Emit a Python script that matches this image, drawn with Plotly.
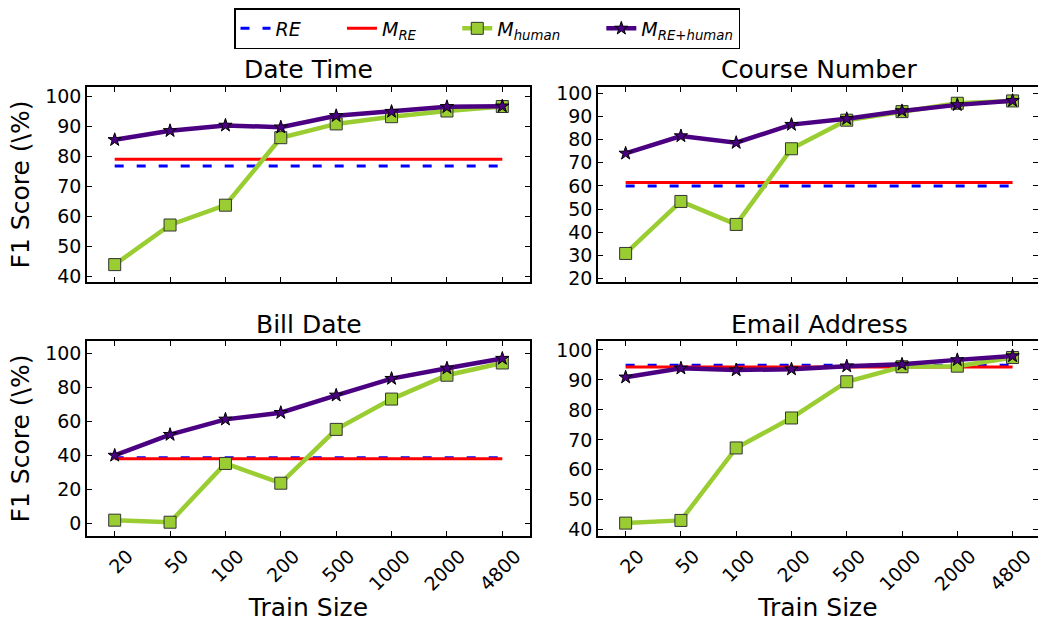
import plotly.graph_objects as go

train_sizes = ["20", "50", "100", "200", "500", "1000", "2000", "4800"]
panel_titles = ["Date Time", "Course Number", "Bill Date", "Email Address"]

# RE and M_RE constant baselines per panel
re_vals = [76.9, 60.0, 38.6, 94.9]
m_re_vals = [79.1, 61.5, 38.0, 94.3]

# M_human per panel
m_human_date_time = [44.0, 57.2, 63.8, 86.3, 90.9, 93.3, 95.2, 96.7]
m_human_course = [30.9, 53.3, 43.4, 76.0, 88.3, 92.0, 95.6, 96.6]
m_human_bill = [2.0, 0.8, 35.3, 23.7, 55.3, 73.1, 87.1, 94.3]
m_human_email = [42.2, 43.1, 67.3, 77.3, 89.4, 94.4, 94.6, 97.5]

# M_RE+human per panel
m_both_date_time = [85.6, 88.6, 90.4, 89.8, 93.6, 95.0, 96.6, 96.8]
m_both_course = [74.0, 81.5, 78.6, 86.4, 88.9, 92.3, 94.9, 96.7]
m_both_bill = [40.0, 52.2, 61.2, 65.1, 75.3, 85.1, 91.2, 96.9]
m_both_email = [90.9, 93.9, 93.3, 93.6, 94.6, 95.2, 96.7, 98.0]

m_human_all = [m_human_date_time, m_human_course, m_human_bill, m_human_email]
m_both_all = [m_both_date_time, m_both_course, m_both_bill, m_both_email]
y_ranges = [[38.2, 103.2], [18.6, 102.6], [-7.3, 107.2], [37.9, 103.0]]
y_dticks = [10, 10, 20, 10]

W, H = 1038, 622
# pixel boxes of plot areas (left, right, top, bottom)
boxes = [(87, 530, 87, 282), (598, 1038, 87, 282), (87, 530, 341, 536), (598, 1038, 341, 536)]
x_ranges = [[-0.5, 7.5], [-0.5, 7.46], [-0.5, 7.5], [-0.5, 7.46]]

FONT = "DejaVu Sans"
GREEN = "#9ACD32"
PURPLE = "#4B0082"
NB = "\u00a0"

fig = go.Figure()
for i in range(4):
    xa = "x" if i == 0 else f"x{i+1}"
    ya = "y" if i == 0 else f"y{i+1}"
    show = i == 0
    fig.add_trace(go.Scatter(x=train_sizes, y=[re_vals[i]] * len(train_sizes), mode="lines",
                             line=dict(color="#0000FF", width=3, dash="9px,13px"),
                             name="<i>RE</i>" + NB * 6, showlegend=show, xaxis=xa, yaxis=ya))
    fig.add_trace(go.Scatter(x=train_sizes, y=[m_re_vals[i]] * len(train_sizes), mode="lines",
                             line=dict(color="#FF0000", width=3),
                             name="<i>M</i><sub><i>RE</i></sub>" + NB * 6, showlegend=show, xaxis=xa, yaxis=ya))
    fig.add_trace(go.Scatter(x=train_sizes, y=m_human_all[i], mode="lines+markers",
                             line=dict(color=GREEN, width=4.5),
                             marker=dict(symbol="square", size=12, color=GREEN,
                                         line=dict(color="#333333", width=1)),
                             name="<i>M</i><sub><i>human</i></sub>" + NB * 6, showlegend=show, xaxis=xa, yaxis=ya))
    fig.add_trace(go.Scatter(x=train_sizes, y=m_both_all[i], mode="lines+markers",
                             line=dict(color=PURPLE, width=4.5),
                             marker=dict(symbol="star", size=10, color=PURPLE,
                                         line=dict(color="#000000", width=1)),
                             name="<i>M</i><sub><i>RE+human</i></sub>", showlegend=show, xaxis=xa, yaxis=ya))

layout = dict(width=W, height=H, margin=dict(l=0, r=0, t=0, b=0, autoexpand=False),
              paper_bgcolor="white", plot_bgcolor="white",
              font=dict(family=FONT, color="black", size=19))
annotations = []
for i, (l, r, t, b) in enumerate(boxes):
    key = "" if i == 0 else str(i + 1)
    xd = [l / W, r / W]
    yd = [1 - b / H, 1 - t / H]
    bottom = i >= 2
    left = i % 2 == 0
    xax = dict(
        domain=xd, anchor="y" + key, type="category", range=x_ranges[i], automargin=False,
        showline=True, linecolor="black", linewidth=1.5, mirror="allticks",
        ticks="inside", ticklen=5, tickcolor="black", showgrid=False, zeroline=False,
        showticklabels=bottom, tickangle=-45, ticklabelshift=13,
        tickfont=dict(size=19, family=FONT),
    )
    if bottom:
        xax["title"] = dict(text="Train Size", font=dict(size=25, family=FONT), standoff=4)
    yax = dict(
        domain=yd, anchor="x" + key, range=y_ranges[i], dtick=y_dticks[i], automargin=False,
        showline=True, linecolor="black", linewidth=1.5, mirror="allticks",
        ticks="inside", ticklen=5, tickcolor="black", showgrid=False, zeroline=False,
        tickfont=dict(size=19, family=FONT),
    )
    if left:
        yax["title"] = dict(text="F1 Score (\\%)", font=dict(size=25, family=FONT), standoff=8)
    layout["xaxis" + key] = xax
    layout["yaxis" + key] = yax
    annotations.append(dict(text=panel_titles[i], x=(l + r) / 2 / W if i % 2 == 0 else (598 + 1040) / 2 / W,
                            y=1 - (t - 17) / H, xref="paper", yref="paper",
                            xanchor="center", yanchor="middle", showarrow=False,
                            font=dict(size=25, family=FONT)))
layout["annotations"] = annotations
layout["legend"] = dict(orientation="h", x=487 / W, y=1 - 8 / H, xanchor="center", yanchor="top",
                        bordercolor="black", borderwidth=1.5, bgcolor="white",
                        font=dict(size=19, family=FONT), itemwidth=30,
                        tracegroupgap=0)
fig.update_layout(**layout)
fig.write_html("out.html", config={"displayModeBar": False},
               post_script="document.body.style.margin='0';document.body.style.overflow='hidden';")
